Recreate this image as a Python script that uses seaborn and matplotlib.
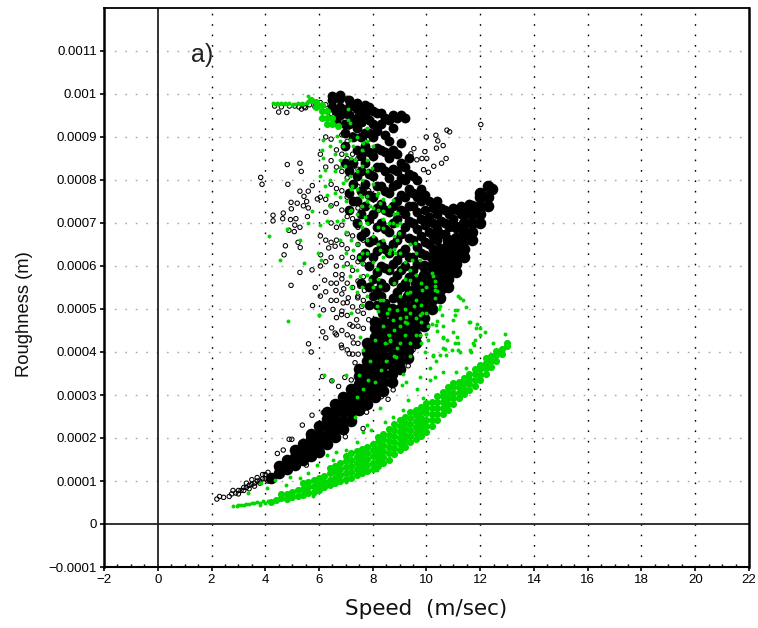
import pandas as pd
import matplotlib
matplotlib.use('Agg')
import matplotlib.pyplot as plt
import seaborn as sns

# Roughness vs speed scatter.
# All roughness values below are in units of 0.0001 m.

# solid black band and wing: columns of speed with the roughness values stacked on them
black_core_speed = [4.2, 4.5, 4.8, 5.1, 5.4, 5.7, 6.0, 6.3, 6.6, 6.9, 7.2, 7.5, 7.8, 8.1, 8.4, 8.7, 9.0, 9.3,
                    9.6, 9.9, 10.2, 10.5, 10.8, 11.1, 11.4, 11.7, 12.0, 12.3, 12.45]
black_core_rough = [
    [1.06], [1.18, 1.36], [1.28, 1.5], [1.38, 1.55, 1.72], [1.48, 1.65, 1.85], [1.58, 1.78, 1.98, 2.1],
    [1.68, 1.88, 2.08, 2.28], [1.85, 2.05, 2.25, 2.45, 2.6], [2.02, 2.22, 2.42, 2.62, 2.78],
    [2.2, 2.4, 2.6, 2.8, 2.95], [2.4, 2.6, 2.8, 3.0, 3.15], [2.65, 2.85, 3.05, 3.25, 3.45, 3.6],
    [2.8, 3.0, 3.2, 3.4, 3.6, 3.8, 4.0, 4.2], [2.95, 3.15, 3.35, 3.55, 3.75, 3.95, 4.15, 4.35, 4.55, 4.7],
    [3.1, 3.3, 3.5, 3.7, 3.9, 4.1, 4.3, 4.5, 4.7, 4.9, 5.0], [3.3, 3.5, 3.7, 3.9, 4.1, 4.3, 4.5, 4.7, 4.9, 5.0],
    [3.6, 3.8, 4.0, 4.2, 4.4, 4.6, 4.8, 5.0], [3.85, 4.05, 4.25, 4.45, 4.65, 4.85, 5.05, 5.3],
    [4.2, 4.4, 4.6, 4.8, 5.0, 5.2, 5.4, 5.6], [4.6, 4.8, 5.0, 5.2, 5.4, 5.6, 5.8, 6.0],
    [5.0, 5.2, 5.4, 5.6, 5.8, 6.0, 6.2], [5.25, 5.45, 5.65, 5.85, 6.05, 6.25, 6.4],
    [5.5, 5.7, 5.9, 6.1, 6.3, 6.5, 6.6], [5.85, 6.05, 6.25, 6.45, 6.65, 6.9], [6.2, 6.4, 6.6, 6.8, 7.0, 7.2],
    [6.6, 6.8, 7.0, 7.2, 7.4], [7.0, 7.2, 7.4, 7.6, 7.7], [7.4, 7.6, 7.85], [7.8]]

# mottled upper mass
black_mid_speed = [6.5, 6.8, 7.1, 7.4, 7.7, 8.0, 8.3, 8.6, 8.9, 9.2, 9.5, 9.8, 10.1, 10.4, 10.7, 11.0, 11.3, 11.6,
                   6.65, 6.95, 7.25, 7.55, 7.85, 8.15, 8.45, 8.75, 9.05, 9.35, 9.65, 9.95, 10.25, 10.55, 10.85,
                   11.15, 11.45]
black_mid_rough = [
    [9.7, 9.85, 9.95], [9.5, 9.7, 9.9, 9.97], [9.3, 9.5, 9.7, 9.85, 8.2, 7.7, 7.3],
    [9.2, 9.45, 9.65, 9.8, 8.7, 8.1, 7.5, 7.0], [9.1, 9.5, 9.75, 8.8, 8.4, 7.9, 7.4, 6.8, 6.3],
    [9.0, 9.3, 9.6, 8.55, 8.1, 7.6, 7.2, 6.6, 6.2, 5.7, 5.3], [9.3, 9.55, 8.7, 8.3, 7.85, 7.45, 7.0, 6.5, 6.0, 5.6, 5.3],
    [9.4, 8.9, 8.5, 8.05, 7.7, 7.25, 6.8, 6.3, 5.9], [9.45, 8.6, 8.2, 7.9, 7.5, 7.1, 6.6, 6.15, 5.8, 5.4],
    [9.45, 8.3, 8.0, 7.6, 7.2, 6.9, 6.4, 6.0, 5.6], [8.1, 7.7, 7.4, 7.0, 6.6, 6.2, 5.9],
    [7.8, 7.5, 7.1, 6.7, 6.3], [7.5, 7.15, 6.8, 6.5], [7.5, 7.2, 6.85, 6.6], [7.3, 7.0, 6.75],
    [7.35, 7.1], [7.4, 7.2], [7.45],
    [9.6, 9.4], [9.55, 9.3, 9.1, 8.8, 8.4], [9.35, 9.0, 8.4, 7.9, 7.5],
    [9.6, 9.35, 9.0, 8.55, 8.2, 7.75, 7.2, 6.7, 6.2, 5.6], [9.7, 9.4, 9.1, 8.65, 8.15, 7.65, 7.1, 6.55, 6.0, 5.5, 5.1],
    [9.55, 9.15, 8.75, 8.3, 7.85, 7.35, 6.9, 6.35, 5.85, 5.45, 5.1],
    [9.45, 9.05, 8.65, 8.2, 7.75, 7.3, 6.85, 6.4, 5.95, 5.5, 5.15],
    [9.5, 9.2, 8.7, 8.25, 7.85, 7.4, 7.0, 6.5, 6.05, 5.65, 5.25],
    [9.5, 8.85, 8.4, 8.05, 7.65, 7.3, 6.75, 6.3, 5.9, 5.5, 5.2], [8.5, 8.15, 7.8, 7.4, 7.05, 6.65, 6.2, 5.75, 5.45],
    [8.0, 7.6, 7.25, 6.85, 6.45, 6.05, 5.7], [7.65, 7.3, 6.95, 6.55, 6.25], [7.35, 7.0, 6.7, 6.4],
    [7.35, 7.05, 6.75], [7.2, 6.9], [7.3], [7.35]]

# open circles, outliers left and right of the mass
ring_speed = [3.83, 3.88, 4.82, 5.29, 5.34, 4.84, 5.75, 5.29, 5.6, 5.44, 5.54, 5.19, 4.96, 5.42, 5.6, 5.94, 4.97, 4.67,
              4.29, 4.29, 4.65, 4.94, 5.14, 5.57, 5.1, 4.88, 5.08, 5.29, 5.22, 4.75, 5.3, 4.7, 6.06, 6.36, 6.6, 5.29,
              5.74, 4.96, 6.21, 6.62, 6.86, 5.86, 6.63, 6.92, 5.76, 6.17, 6.52, 6.9, 6.84, 5.61, 5.71, 6.14, 6.47,
              6.6, 6.25, 6.83, 7.12, 7.28, 7.15, 7.4, 7.52, 7.69, 7.09, 7.44, 7.59,
              12.02, 10.35, 10.86, 10.76, 10.42, 9.99, 10.37, 10.62, 9.53, 9.42, 9.94, 9.83, 10.01, 10.73, 10.56,
              10.27, 10.07, 9.64, 9.89, 4.5, 4.8, 5.35, 5.5]
ring_rough = [8.06, 7.9, 8.36, 8.39, 8.2, 7.9, 7.87, 7.74, 7.74, 7.62, 7.5, 7.46, 7.48, 7.4, 7.35, 7.56, 7.33, 7.23,
              7.18, 7.05, 7.1, 7.08, 7.1, 7.15, 6.95, 6.83, 6.8, 6.9, 6.55, 6.47, 6.43, 6.26, 6.26, 6.42, 6.46, 5.85,
              5.91, 5.55, 5.67, 5.8, 5.8, 5.5, 5.43, 5.47, 5.08, 4.98, 4.99, 5.14, 4.87, 4.19, 4.0, 4.47, 4.56,
              4.44, 4.33, 4.16, 3.96, 4.21, 4.64, 4.75, 5.53, 5.43, 5.26, 5.26, 5.06,
              9.29, 9.04, 9.12, 9.16, 8.91, 9.0, 8.74, 8.8, 8.73, 8.61, 8.66, 8.5, 8.5, 8.5, 8.39,
              8.32, 8.18, 8.47, 8.24, 9.58, 9.57, 9.65, 9.68]

# open circles around the band and the thin tail
band_ring_speed = [2.2, 2.3, 2.45, 2.66, 4.45, 4.67, 4.89, 4.99, 5.38, 5.74, 6.16, 6.13, 6.48, 6.73, 6.96, 7.34,
                   7.64, 7.46, 7.2, 7.64, 6.98, 6.7, 5.53, 9.38, 9.32, 9.5, 8.76, 8.57, 8.32, 7.77, 8.14,
                   2.75, 2.9, 3.0, 3.1, 3.2, 3.3, 3.4, 3.5, 3.6, 3.7, 3.8, 3.9, 4.0, 4.0,
                   2.8, 3.0, 3.2, 3.4, 3.6, 3.8, 4.1, 4.1, 3.3, 3.5, 3.7, 3.9]
band_ring_rough = [0.58, 0.64, 0.62, 0.64, 1.64, 1.72, 1.97, 1.97, 2.3, 2.53, 2.59, 3.43, 3.33, 3.2, 3.41, 3.75,
                   3.65, 3.95, 3.35, 2.22, 2.03, 1.97, 1.37, 3.97, 3.68, 4.05, 3.12, 2.9, 2.96, 2.6, 2.88,
                   0.7, 0.72, 0.78, 0.78, 0.85, 0.85, 0.9, 0.92, 0.95, 1.0, 1.0, 1.05, 1.05, 1.15,
                   0.78, 0.7, 0.78, 0.82, 0.88, 0.95, 1.0, 1.2, 0.95, 1.03, 1.08, 1.15]

# open circles over the left part of the mass and the arm at the top
mass_ring_speed = [4.35, 4.6, 4.9, 5.1, 5.25, 5.45, 5.65, 5.85, 6.05, 6.25, 6.45, 6.65, 6.85, 7.05, 7.25, 7.45,
                   7.65, 7.85]
mass_ring_rough = [
    [9.72], [9.7], [9.72], [9.72], [9.7], [9.7], [9.75], [9.8, 9.7], [9.8, 8.6, 7.6, 6.7, 6.0, 5.3],
    [9.75, 9.0, 8.3, 7.55, 7.25, 6.6, 6.1, 5.4], [9.55, 8.95, 8.45, 7.9, 7.4, 7.0, 6.55, 6.2, 5.6, 5.2],
    [9.75, 9.3, 8.7, 8.3, 7.8, 7.45, 6.9, 6.6, 6.0, 5.6, 5.2, 4.8, 4.4],
    [9.85, 9.35, 9.05, 8.6, 8.2, 7.75, 7.3, 6.95, 6.5, 6.2, 5.7, 5.35, 4.95, 4.5, 4.1],
    [9.9, 9.2, 8.9, 8.5, 8.05, 7.6, 7.15, 6.75, 6.4, 6.05, 5.6, 5.15, 4.85, 4.4, 4.05],
    [9.6, 9.05, 8.6, 8.3, 7.9, 7.55, 7.1, 6.7, 6.2, 5.9, 5.5, 5.05, 4.6, 4.35, 3.95],
    [9.0, 8.5, 8.25, 7.85, 7.35, 6.9, 6.5, 6.1, 5.65, 5.3, 4.95, 4.6, 4.2],
    [9.55, 9.3, 8.6, 8.2, 7.7, 7.2, 6.6, 6.05, 5.75, 5.2, 4.9, 4.55],
    [9.45, 8.95, 8.2, 7.75, 7.0, 6.55, 5.95, 5.5, 5.05, 4.75]]

# solid green band
green_core_speed = [4.2, 4.4, 4.6, 4.8, 5.0, 5.2, 5.4, 5.6, 5.8, 6.0, 6.2, 6.4, 6.6, 6.8, 7.0, 7.2, 7.4, 7.6, 7.8,
                    8.0, 8.2, 8.4, 8.6, 8.8, 9.0, 9.2, 9.4, 9.6, 9.8, 10.0, 10.2, 10.4, 10.6, 10.8, 11.0, 11.2,
                    11.4, 11.6, 11.8, 12.0, 12.2, 12.4, 12.6, 12.8, 13.0,
                    5.7, 5.9, 6.1, 6.3, 6.5, 6.7]
green_core_rough = [
    [0.52], [0.55], [0.6, 0.7], [0.58, 0.7], [0.62, 0.75], [0.66, 0.8], [0.68, 0.82, 0.95], [0.72, 0.86, 0.98],
    [0.74, 0.88, 1.02], [0.8, 0.92, 1.06], [0.85, 0.98, 1.12], [0.9, 1.03, 1.18, 1.3], [0.95, 1.08, 1.22, 1.35],
    [1.0, 1.14, 1.28, 1.42], [1.04, 1.18, 1.32, 1.46, 1.58], [1.08, 1.22, 1.36, 1.5, 1.64],
    [1.13, 1.27, 1.41, 1.55, 1.69], [1.18, 1.32, 1.46, 1.6, 1.74], [1.24, 1.38, 1.52, 1.66, 1.8],
    [1.29, 1.43, 1.57, 1.71, 1.85], [1.35, 1.49, 1.63, 1.77, 1.91, 2.02], [1.41, 1.55, 1.69, 1.83, 1.97, 2.1],
    [1.5, 1.64, 1.78, 1.92, 2.06, 2.2], [1.62, 1.76, 1.9, 2.04, 2.18, 2.32], [1.72, 1.86, 2.0, 2.14, 2.28, 2.42],
    [1.8, 1.94, 2.08, 2.22, 2.36, 2.5], [1.9, 2.04, 2.18, 2.32, 2.46, 2.6], [1.98, 2.12, 2.26, 2.4, 2.54, 2.66],
    [2.05, 2.19, 2.33, 2.47, 2.6, 2.72], [2.15, 2.29, 2.43, 2.57, 2.7, 2.82], [2.28, 2.42, 2.56, 2.7, 2.84],
    [2.42, 2.56, 2.7, 2.84, 2.98], [2.55, 2.69, 2.83, 2.97, 3.08], [2.65, 2.79, 2.93, 3.07, 3.18],
    [2.8, 2.92, 3.05, 3.18, 3.28], [2.92, 3.05, 3.18, 3.3], [3.02, 3.15, 3.28, 3.4], [3.12, 3.25, 3.38, 3.5],
    [3.22, 3.35, 3.48, 3.6], [3.34, 3.47, 3.6, 3.7], [3.5, 3.62, 3.75, 3.85], [3.65, 3.78, 3.9],
    [3.8, 3.92, 4.02], [3.95, 4.08], [4.15, 4.2],
    [9.85], [9.82, 9.7], [9.75, 9.6, 9.45], [9.6, 9.45, 9.3], [9.45, 9.3], [9.25]]

# separate green dots: tail, scatter above the band, arm at the top
green_low_speed = [2.8, 3.0, 3.2, 3.4, 3.6, 3.8, 3.9, 4.0, 3.7, 2.95, 3.1, 3.3, 3.5, 4.1,
                   11.16, 11.26, 11.36, 11.48, 11.13, 11.07, 10.98, 11.63, 11.88, 12.0, 12.19, 12.93, 11.84, 10.39,
                   10.57, 10.63, 10.07, 10.2, 10.39, 10.07, 10.63, 10.75, 11.13, 11.07, 11.19, 11.75, 11.81, 11.63,
                   10.63, 10.26, 9.95, 10.94, 9.75, 10.0, 10.37, 10.62, 11.05, 11.6, 12.47, 11.98, 11.0, 11.17, 11.24,
                   11.73, 10.68, 10.25, 10.37, 10.5, 10.74, 10.12, 10.3, 10.62, 11.1, 11.48, 11.67, 10.12, 9.75, 9.13,
                   9.25, 9.63, 9.07, 9.32, 9.87, 9.13, 8.76, 8.45, 8.26, 7.77, 7.95, 7.64, 7.4, 7.02, 6.65, 6.28, 5.91,
                   5.6, 5.29, 4.79, 4.36, 3.86, 3.37, 4.05, 4.92, 6.53, 8.14, 6.99, 5.78, 3.8,
                   4.3, 4.45, 4.6, 4.75, 4.9, 5.05, 5.2, 5.35, 5.5, 5.6, 5.7, 5.6, 4.38, 4.52, 4.68, 4.82, 4.98, 5.12,
                   5.28, 5.42, 5.55]
green_low_rough = [0.42, 0.44, 0.45, 0.47, 0.48, 0.48, 0.53, 0.5, 0.52, 0.43, 0.45, 0.47, 0.5, 0.53,
                   5.31, 5.26, 5.22, 5.05, 4.98, 4.87, 4.75, 4.7, 4.64, 4.56, 4.47, 4.43, 4.56, 4.71,
                   4.87, 4.6, 4.6, 4.64, 4.48, 4.29, 4.33, 4.29, 4.36, 4.21, 4.05, 4.17, 4.29, 4.05,
                   4.09, 3.94, 4.0, 4.04, 4.4, 4.43, 4.63, 4.36, 4.98, 4.7, 4.2, 4.4, 4.47, 4.2, 4.0,
                   4.2, 4.08, 3.9, 3.78, 3.93, 3.93, 3.62, 3.43, 3.54, 3.54, 3.62, 4.0, 3.35, 3.43, 3.5,
                   3.31, 3.15, 3.23, 2.88, 2.92, 2.65, 2.5, 2.38, 2.69, 2.3, 2.19, 2.15, 1.91, 1.72, 1.68, 1.6, 1.37,
                   1.18, 1.06, 0.91, 1.02, 0.96, 0.73, 0.83, 1.1, 1.49, 1.26, 0.98, 0.64, 0.44,
                   9.78, 9.8, 9.8, 9.78, 9.78, 9.77, 9.78, 9.8, 9.8, 9.83, 9.85, 9.95, 9.76, 9.76, 9.76, 9.76, 9.74,
                   9.76, 9.76, 9.76, 9.78]

# green dots inside the black mass
green_mid_speed = [6.16, 6.1, 6.16, 6.22, 6.22, 6.29, 6.04, 6.66, 6.9, 6.78, 6.97, 7.16, 7.16, 7.28, 7.34, 7.09, 7.09,
                   7.65, 7.78, 7.59, 7.96, 7.16, 6.9, 7.22, 7.53, 7.78, 8.15, 8.27, 8.4, 7.9, 7.59, 7.71, 7.53, 7.16,
                   6.9, 6.66, 6.29, 6.04, 5.73, 5.6, 5.29, 4.8, 4.14, 4.55, 5.45, 5.98, 6.07, 4.86, 6.0, 7.28, 7.47,
                   7.59, 6.9, 7.16, 7.53, 7.9, 8.27, 8.15, 8.77, 8.89, 9.02, 8.4, 8.89, 8.83, 9.58, 9.45, 9.76, 9.39,
                   9.27, 9.52, 9.83, 10.26, 10.32, 10.38, 10.2, 10.51, 10.45, 9.83, 8.89, 9.02, 8.77, 9.27, 8.15, 8.52,
                   8.65, 8.89, 8.09, 7.53, 7.65, 9.76, 8.27, 7.78, 8.27, 8.65, 8.96, 8.89, 8.77,
                   9.0, 9.25, 8.63, 8.45, 8.5, 7.9, 7.83, 7.64, 7.4, 7.33, 8.08, 8.32, 8.88, 7.5, 7.02, 6.47, 6.18, 6.0]
green_mid_rough = [8.94, 8.7, 8.51, 8.24, 7.85, 7.66, 8.09, 9.02, 8.78, 8.47, 8.32, 9.33, 8.94, 8.78, 8.47, 9.64, 9.4,
                   8.86, 8.47, 8.32, 8.28, 8.09, 7.93, 7.85, 7.66, 7.62, 7.66, 7.47, 7.27, 7.39, 7.39, 7.15, 7.0, 7.27,
                   7.08, 7.04, 7.04, 6.96, 7.27, 7.0, 6.61, 6.85, 6.69, 6.15, 6.07, 6.3, 6.15, 4.71, 4.87, 6.38, 6.22,
                   6.07, 5.99, 5.76, 5.76, 5.68, 5.53, 5.92, 7.0, 6.96, 7.0, 6.88, 6.61, 6.3, 6.53, 6.15, 6.15, 5.68,
                   5.37, 5.06, 5.45, 5.76, 5.53, 5.41, 5.84, 5.06, 5.0, 4.9, 4.98, 4.6, 4.75, 4.67, 5.06, 4.9,
                   4.25, 4.09, 4.29, 4.36, 4.05, 4.87, 5.22, 6.3, 6.38, 6.38, 6.77, 7.23, 7.54,
                   4.8, 4.82, 4.28, 4.2, 3.78, 3.78, 3.35, 3.15, 2.96, 2.5, 3.31, 3.58, 3.89, 3.46, 3.46, 3.35, 3.46, 4.86]

green_extra_speed = [6.4, 6.6, 6.8, 7.0, 7.2, 7.4, 7.6, 7.8, 8.0, 8.2, 8.4, 8.6, 8.8, 9.0, 9.2, 9.4, 9.6, 9.8, 10.0, 10.3]
green_extra_rough = [
    [8.8, 8.0, 7.4], [8.6, 8.2, 7.7], [8.9, 8.3, 7.6, 6.6], [8.6, 8.0, 7.5, 6.8, 6.3],
    [8.5, 7.8, 7.3, 6.6, 6.0, 5.5, 4.9], [9.0, 8.2, 7.8, 7.2, 6.5, 5.9, 5.4], [8.7, 8.0, 7.6, 6.9, 6.3, 5.5, 5.1],
    [9.2, 8.9, 8.2, 7.5, 7.0, 6.6, 5.8, 5.3], [8.8, 7.9, 7.35, 6.7, 6.1, 5.5], [7.7, 7.3, 6.9, 6.5, 5.7, 4.95],
    [7.55, 7.1, 6.6, 6.2, 5.2, 4.6], [7.4, 7.0, 6.3, 5.9, 5.0, 4.4], [7.2, 6.7, 6.4, 5.6, 4.5, 3.9],
    [6.3, 5.9, 5.3, 4.2], [6.1, 5.7, 5.0, 4.7, 4.4], [6.5, 5.9, 5.4, 4.9, 4.2, 3.9], [6.3, 5.8, 5.2, 4.8, 4.4],
    [5.6, 5.1, 4.7, 4.2], [5.5, 4.9], [5.65, 5.45, 5.25]]

x_ticks = [-2, 0, 2, 4, 6, 8, 10, 12, 14, 16, 18, 20, 22]
y_ticks = [-0.0001, 0, 0.0001, 0.0002, 0.0003, 0.0004, 0.0005, 0.0006, 0.0007, 0.0008, 0.0009, 0.001, 0.0011]
y_tick_labels = ['\u22120.0001', '0', '0.0001', '0.0002', '0.0003', '0.0004', '0.0005', '0.0006', '0.0007',
                 '0.0008', '0.0009', '0.001', '0.0011']


def from_columns(speeds, columns):
    rows = [(s, r * 1e-4) for s, col in zip(speeds, columns, strict=True) for r in col]
    return pd.DataFrame(rows, columns=['speed', 'rough'])


def from_pairs(*pairs):
    rows = [(s, r * 1e-4) for speeds, roughs in pairs for s, r in zip(speeds, roughs, strict=True)]
    return pd.DataFrame(rows, columns=['speed', 'rough'])


black_core = from_columns(black_core_speed, black_core_rough)
black_mid = from_columns(black_mid_speed, black_mid_rough)
green_core = from_columns(green_core_speed, green_core_rough)
rings = pd.concat([from_pairs((ring_speed, ring_rough), (band_ring_speed, band_ring_rough)),
                   from_columns(mass_ring_speed, mass_ring_rough)])
green = pd.concat([from_pairs((green_low_speed, green_low_rough), (green_mid_speed, green_mid_rough)),
                   from_columns(green_extra_speed, green_extra_rough)])

sns.set_style('white')
plt.rcParams['font.family'] = ['Liberation Sans', 'DejaVu Sans']

fig = plt.figure(figsize=(7.58, 6.28), dpi=100)
ax = fig.add_axes([104 / 758, 1 - 567 / 628, 645 / 758, 559 / 628])

# grid first so the points sit on top of it
for x in x_ticks[2:-1]:
    ax.axvline(x, color='black', lw=1.0, ls=(0, (1.2, 6.3)), zorder=1)
for y in y_ticks[2:]:
    ax.axhline(y, color='#a8a8a8', lw=1.0, ls=(0, (1.2, 6.3)), zorder=1)
ax.axvline(0, color='#222222', lw=1.3, zorder=1)
ax.axhline(0, color='#222222', lw=1.3, zorder=1)

sns.scatterplot(data=black_core, x='speed', y='rough', color='black', s=70, linewidth=0, ax=ax, zorder=2)
sns.scatterplot(data=black_mid, x='speed', y='rough', color='black', s=50, linewidth=0, ax=ax, zorder=2)
sns.scatterplot(data=rings, x='speed', y='rough', facecolors='none', edgecolor='black', s=10, linewidth=0.75,
                ax=ax, zorder=2)
sns.scatterplot(data=green_core, x='speed', y='rough', color='#00d800', s=26, linewidth=0, ax=ax, zorder=3)
sns.scatterplot(data=green, x='speed', y='rough', color='#00d800', s=8, linewidth=0, ax=ax, zorder=3)

ax.set_xlim(-2, 22)
ax.set_ylim(-0.0001, 0.0012)
ax.set_xticks(x_ticks)
ax.set_xticklabels([str(t).replace('-', '\u2212') for t in x_ticks])
ax.set_yticks(y_ticks)
ax.set_yticklabels(y_tick_labels)
ax.tick_params(axis='both', which='major', direction='out', length=3, width=1.2, labelsize=9.5, pad=2,
               left=True, bottom=True, color='black', labelcolor='black')
ax.set_xticks([t + d for t in x_ticks[:-1] for d in (0.5, 1.0, 1.5)], minor=True)
ax.tick_params(axis='x', which='minor', direction='in', length=2, width=1.0, bottom=True, color='black')

for side, lw in {'left': 1.8, 'right': 1.8, 'top': 1.3, 'bottom': 1.5}.items():
    ax.spines[side].set_visible(True)
    ax.spines[side].set_linewidth(lw)
    ax.spines[side].set_color('black')

ax.set_xlabel('Speed  (m/sec)', fontsize=15.5, color='#111111', family='DejaVu Sans', va='center')
ax.set_ylabel('Roughness (m)', fontsize=13.2, color='#111111', va='center')
ax.xaxis.set_label_coords(0.499, -0.075)
ax.yaxis.set_label_coords(-0.124, 0.453)
ax.text(1.25, 0.00109, 'a)', fontsize=18, va='center', color='#222222')

plt.savefig('out.png', dpi=100)
